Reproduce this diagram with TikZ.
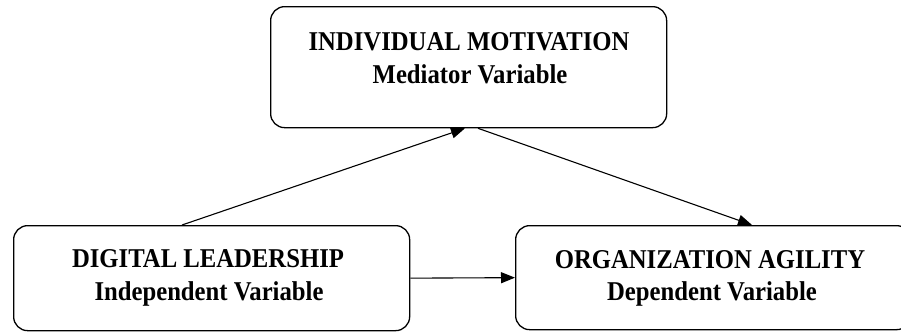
\documentclass[tikz,border=0pt]{standalone}
\usepackage{fontspec}
\setmainfont{Liberation Serif}
\usetikzlibrary{arrows.meta,calc}
\begin{document}
\begin{tikzpicture}[x=1pt,y=-1pt,
  box/.style={draw, line width=1.3pt, rounded corners=14pt, inner sep=0pt, anchor=north west},
  lbl/.style={inner sep=0pt, anchor=base, font=\fontsize{24.7}{28}\selectfont\bfseries},
  conn/.style={line width=1.1pt, -{Triangle[length=14pt,width=11pt]}}]
\useasboundingbox (0,0) rectangle (901,332);
\node[box, minimum width=396pt, minimum height=121pt] (im) at (270,6) {};
\node[box, minimum width=396pt, minimum height=105pt] (dl) at (13,225) {};
\node[box, minimum width=395pt, minimum height=104pt] (oa) at (515,225) {};
\node[lbl] (t1) at (469,50) {\scalebox{1}[1.1]{INDIVIDUAL MOTIVATION}};
\node[lbl] (t2) at (470,83) {\scalebox{1}[1.1]{Mediator Variable}};
\node[lbl] (t3) at (208,267) {\scalebox{1}[1.1]{DIGITAL LEADERSHIP}};
\node[lbl] (t4) at (209,300) {\scalebox{1}[1.1]{Independent Variable}};
\node[lbl] (t5) at (710,268) {\scalebox{1}[1.1]{ORGANIZATION AGILITY}};
\node[lbl] (t6) at (712,300) {\scalebox{1}[1.1]{Dependent Variable}};
\draw[conn] ([xshift=169pt]dl.north west) -- ([xshift=195pt]im.south west);
\draw[conn] ([xshift=208pt]im.south west) -- ([xshift=237pt]oa.north west);
\draw[conn] (dl.east) -- (oa.west);
\end{tikzpicture}
\end{document}
